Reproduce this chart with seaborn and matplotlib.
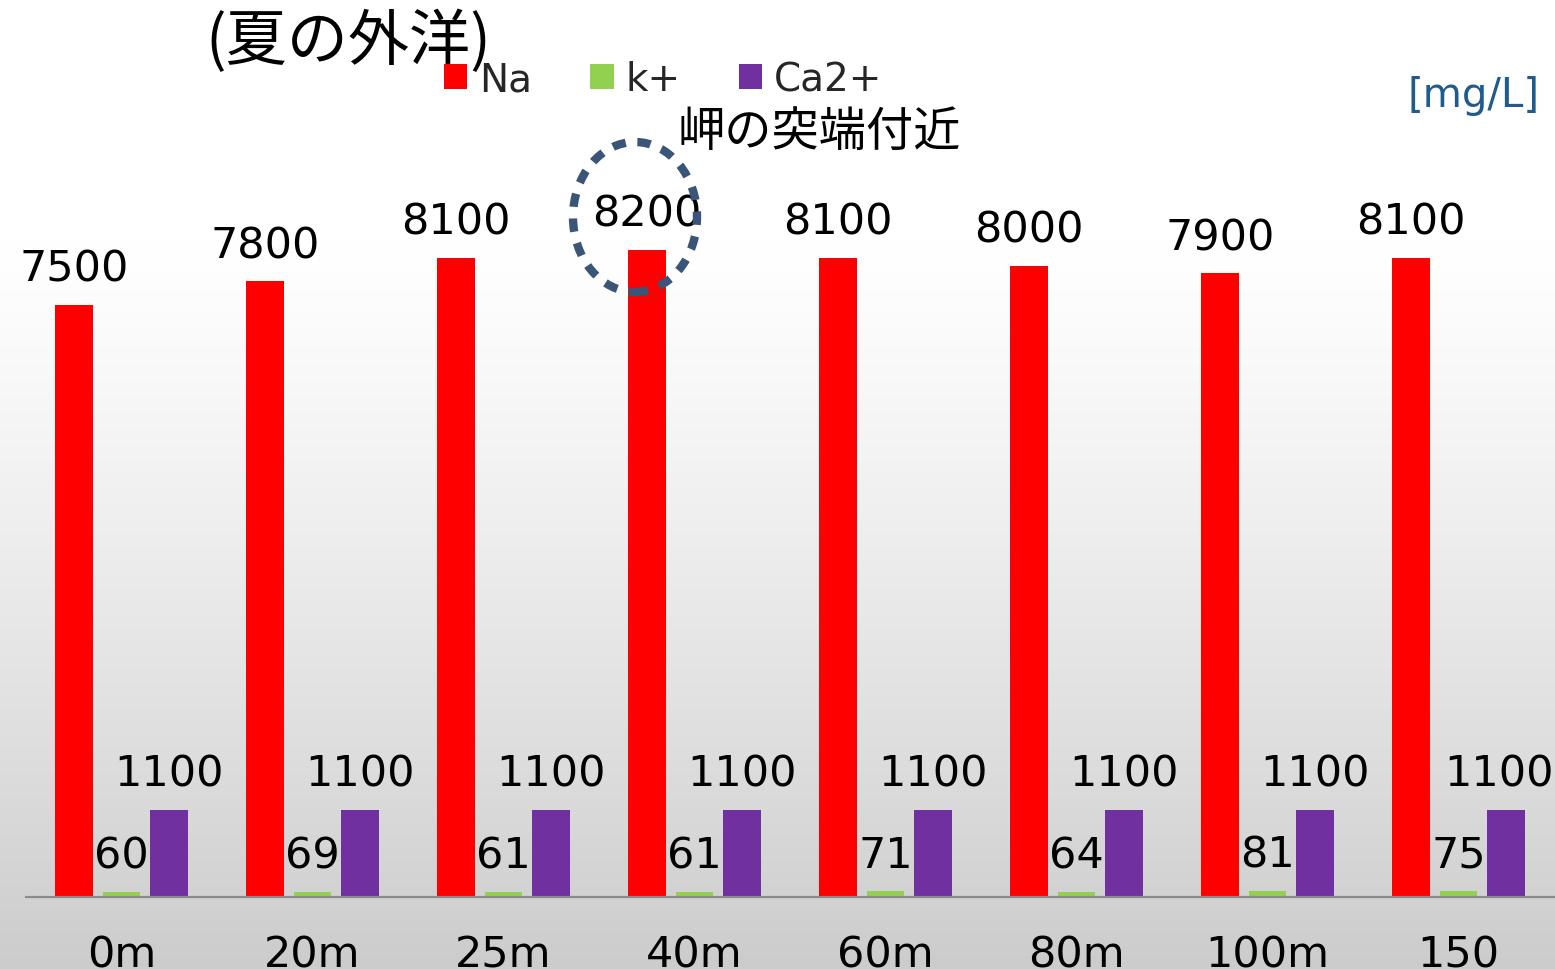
import numpy as np
import pandas as pd
import matplotlib
matplotlib.use("Agg")
import matplotlib.pyplot as plt
import seaborn as sns
from matplotlib.patches import Patch, Ellipse

# ---- data ----
depths = ["0m", "20m", "25m", "40m", "60m", "80m", "100m", "150"]
series = ["Na", "k+", "Ca2+"]
na_vals = [7500, 7800, 8100, 8200, 8100, 8000, 7900, 8100]
k_vals = [60, 69, 61, 61, 71, 64, 81, 75]
ca_vals = [1100, 1100, 1100, 1100, 1100, 1100, 1100, 1100]
colors = ["#ff0000", "#92d050", "#7030a0"]

df = pd.DataFrame({
    "depth": depths * 3,
    "ion": [series[0]] * 8 + [series[1]] * 8 + [series[2]] * 8,
    "value": na_vals + k_vals + ca_vals,
})

sns.set_theme(style="white")
plt.rcParams["font.family"] = ["DejaVu Sans", "Noto Sans CJK JP"]

W, H = 1555, 970
fig = plt.figure(figsize=(W / 100, H / 100), dpi=100)

# background gradient
bg = fig.add_axes([0, 0, 1, 1], zorder=-10)
t = np.linspace(0, 1, 400)
shade = 1 - 0.20 * np.clip((t - 0.25) / 0.75, 0, 1) ** 1.2
img = np.tile(shade[:, None], (1, 10))
bg.imshow(np.dstack([img, img, img]), aspect="auto", extent=[0, 1, 1, 0])
bg.set_axis_off()

ymax = 10000
scale = 592 / 7500.0
ax = fig.add_axes([26 / W, 72 / H, 1528 / W, ymax * scale / H])
ax.patch.set_alpha(0)

sns.barplot(data=df, x="depth", y="value", hue="ion", order=depths,
            hue_order=series, palette=colors, saturation=1, width=0.746,
            gap=0.2, legend=False, ax=ax, errorbar=None, linewidth=0)

pad = 11
label_sets = []
for cont in ax.containers:
    label_sets.append(ax.bar_label(cont, fmt="%d", padding=pad, fontsize=31, color="black"))
# keep the right-most label inside the picture
label_sets[-1][-1].xyann = (-5, pad)

ax.set_xlim(-0.5, 7.5)
ax.set_ylim(0, ymax)
ax.set_xlabel("")
ax.set_ylabel("")
ax.set_yticks([])
for s in ["top", "right", "left"]:
    ax.spines[s].set_visible(False)
ax.spines["bottom"].set_color("#8c8c8c")
ax.spines["bottom"].set_linewidth(1.6)
ax.tick_params(axis="x", length=0, pad=26, labelsize=31, colors="black")

# title
fig.text(205 / W, 1 - 42 / H, "(夏の外洋)", fontsize=44, va="center", ha="left",
         family=["Noto Sans CJK JP", "DejaVu Sans"], color="black")

# legend
handles = [Patch(facecolor=c, edgecolor="none") for c in colors]
fig.legend(handles, series, loc="center", bbox_to_anchor=(663 / W, 1 - 80 / H),
           ncol=3, frameon=False, fontsize=28, handlelength=0.6, handleheight=0.6,
           handletextpad=0.3, columnspacing=1.5)

# unit label
fig.text(1540 / W, 1 - 96 / H, "[mg/L]", fontsize=29, color="#1f5b8c", ha="right", va="center")

# annotation
fig.text(678 / W, 1 - 133 / H, "岬の突端付近", fontsize=34, ha="left", va="center",
         family=["Noto Sans CJK JP", "DejaVu Sans"], color="black")

# dotted ellipse around 8200 label
ell = Ellipse((635 / W, 1 - 218 / H), 124 / W, 150 / H, transform=fig.transFigure,
              fill=False, edgecolor="#3a5577", linewidth=6, linestyle=(0, (1.6, 1.4)))
fig.add_artist(ell)

fig.savefig("out.png", dpi=100)
